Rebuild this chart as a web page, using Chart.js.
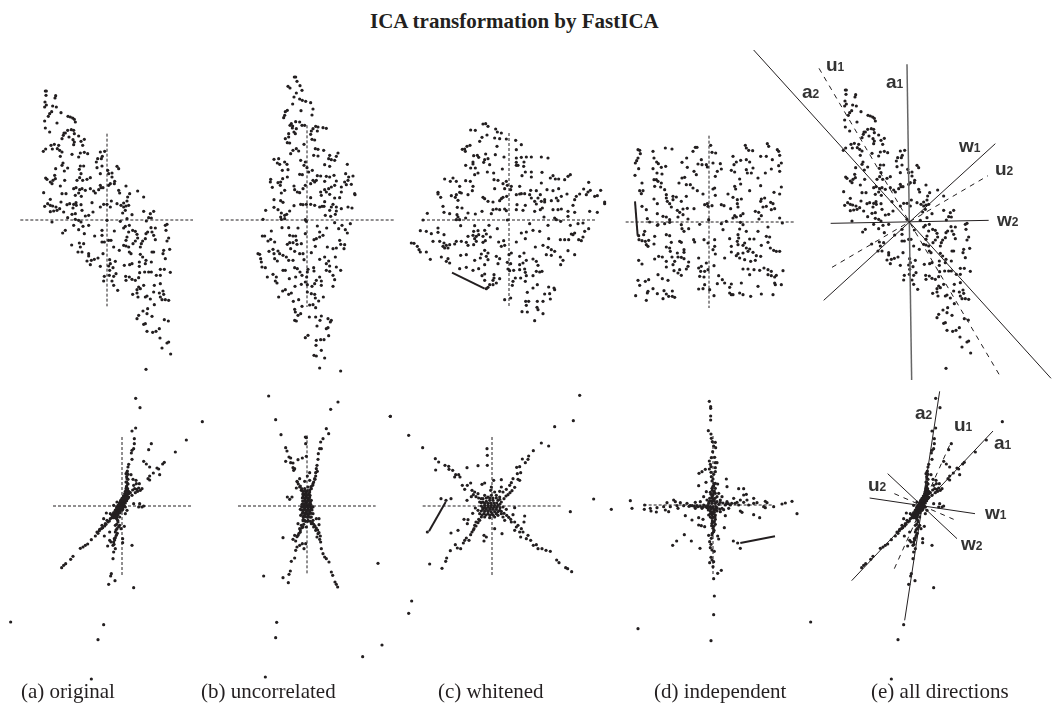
<!DOCTYPE html>
<html>
<head>
<meta charset="utf-8">
<title>ICA transformation by FastICA</title>
<script src="https://cdn.jsdelivr.net/npm/chart.js@4"></script>
<style>
html, body { margin: 0; padding: 0; background: #fff; overflow: hidden; }
#page { position: relative; width: 1052px; height: 703px; overflow: hidden; }
canvas { position: absolute; }
.title { position: absolute; left: 370px; top: 9px; font: bold 21px "Liberation Serif"; color: #231f20; white-space: nowrap; }
.cap { position: absolute; top: 679px; font: 21px "Liberation Serif"; color: #231f20; white-space: nowrap; }
.lab { position: absolute; font: bold 19px "Liberation Sans"; color: #333; line-height: 1; white-space: nowrap; }
.lab span { font-size: 12px; }
</style>
</head>
<body>
<div id="page">
<div class="title">ICA transformation by FastICA</div>
</div>
<script>
const originalTop = [[-185,387],[-182,387],[-183,374],[-154,373],[-156,366],[-186,354],[-182,345],[-187,339],[-163,342],[-152,339],[-166,325],[-172,319],[-176,311],[-187,297],[-138,322],[-150,291],[-117,311],[-110,309],[-103,306],[-98,302],[-95,294],[-185,276],[-172,264],[-118,269],[-107,271],[-100,269],[-125,261],[-131,254],[-129,261],[-135,244],[-114,249],[-98,259],[-85,252],[-102,241],[-98,234],[-78,236],[-68,242],[-73,224],[-100,226],[-158,227],[-168,224],[-145,224],[-164,213],[-149,214],[-142,209],[-135,204],[-140,191],[-184,213],[-191,206],[-105,197],[-80,201],[-85,189],[-68,203],[-58,199],[-20,204],[-7,206],[-14,191],[-17,184],[-28,184],[-32,174],[-30,157],[-15,162],[-132,171],[-135,164],[-118,156],[-154,154],[-128,147],[-80,162],[-70,162],[-83,152],[-78,139],[-82,127],[-90,119],[-50,127],[-60,122],[-73,119],[-20,139],[2,149],[5,139],[15,141],[30,161],[35,154],[15,129],[23,116],[10,109],[22,109],[57,102],[-184,126],[-180,122],[-157,134],[-155,124],[-162,119],[-170,114],[-165,109],[-127,119],[-140,102],[-50,94],[-40,87],[-20,104],[-18,97],[-12,97],[-25,91],[-35,81],[5,104],[35,89],[38,81],[92,87],[110,69],[68,79],[62,69],[60,57],[50,51],[-190,82],[-135,79],[-123,79],[-100,94],[-93,97],[-82,91],[-75,94],[-65,89],[-85,81],[-77,71],[-95,74],[-170,62],[-178,49],[-187,41],[-170,44],[-163,42],[-153,39],[-150,29],[-170,25],[-160,27],[-138,54],[-120,46],[-112,49],[-100,47],[-93,52],[-92,44],[-78,46],[-102,36],[-142,34],[-130,24],[-118,7],[-105,17],[-95,19],[-75,29],[-65,12],[-55,14],[-42,24],[-45,52],[-20,39],[-10,47],[0,47],[13,57],[10,39],[30,49],[42,44],[50,39],[57,42],[65,44],[55,29],[47,21],[60,4],[75,16],[110,26],[140,26],[130,19],[125,7],[133,6],[118,-3],[-165,-6],[-95,2],[-85,-1],[-78,-6],[-100,-16],[-72,-19],[-55,-16],[-125,-31],[-133,-39],[-85,-29],[-68,-41],[-37,-48],[-15,-31],[-15,-46],[0,-1],[40,-4],[22,-33],[55,-19],[67,-16],[50,-24],[65,-36],[77,-31],[85,-34],[90,-43],[92,-54],[60,-51],[57,-61],[85,-63],[78,-71],[107,-63],[117,-41],[122,-36],[135,-36],[140,-46],[145,-59],[132,-23],[145,-24],[115,-56],[103,-71],[175,-16],[180,-13],[177,-31],[185,-54],[180,-63],[-15,-66],[-8,-66],[5,-61],[12,-61],[-106,-75],[-83,-69],[-70,-71],[-80,-81],[-75,-96],[-87,-96],[-55,-101],[-55,-108],[-12,-101],[20,-81],[50,-76],[57,-78],[37,-91],[65,-81],[67,-96],[72,-101],[100,-103],[107,-111],[135,-96],[140,-96],[100,-81],[168,-101],[175,-116],[170,-91],[188,-88],[-27,-114],[-38,-118],[-47,-121],[-60,-123],[-50,-134],[-20,-139],[8,-119],[25,-124],[10,-131],[5,-138],[18,-143],[8,-151],[52,-136],[68,-134],[75,-131],[97,-126],[97,-139],[115,-131],[117,-121],[133,-126],[125,-156],[113,-156],[98,-158],[133,-156],[160,-148],[172,-148],[190,-157],[148,-166],[160,-166],[27,-161],[20,-169],[-8,-169],[7,-166],[-10,-183],[15,-183],[56,-169],[67,-171],[75,-178],[85,-181],[95,-173],[57,-181],[100,-206],[110,-196],[95,-201],[90,-209],[142,-196],[160,-191],[32,-211],[20,-196],[77,-223],[90,-219],[93,-231],[140,-216],[157,-219],[168,-213],[170,-223],[160,-231],[165,-239],[175,-239],[185,-241],[115,-231],[120,-228],[130,-237],[142,-254],[108,-273],[122,-266],[135,-289],[95,-286],[90,-296],[120,-281],[115,-311],[110,-313],[172,-299],[184,-303],[120,-334],[137,-337],[147,-334],[157,-326],[159,-354],[185,-366],[180,-369],[165,-384],[191,-402],[117,-448]];

const uncorrelatedTop = [[-38,429],[-34,429],[-30,416],[-21,403],[-57,401],[-51,396],[-15,389],[-32,381],[-39,369],[-22,363],[-14,359],[-4,356],[11,352],[-43,348],[18,333],[-18,328],[-59,329],[-65,325],[-67,314],[-70,307],[15,315],[-34,295],[-22,294],[-47,289],[-51,284],[-43,282],[-15,284],[-7,284],[-44,276],[-32,274],[26,281],[33,279],[18,274],[13,267],[48,277],[58,275],[31,267],[-39,264],[-35,259],[-55,259],[-55,249],[-65,244],[11,257],[15,242],[23,240],[-52,231],[-59,232],[-9,227],[-32,214],[-42,209],[-49,199],[-25,207],[25,214],[33,212],[50,209],[20,194],[33,192],[68,194],[93,201],[88,191],[65,184],[73,181],[83,179],[-99,182],[-85,184],[-89,171],[-82,167],[-67,174],[-60,167],[-19,179],[-5,174],[-9,164],[0,157],[5,144],[16,149],[53,166],[68,161],[121,167],[-74,149],[-57,151],[-59,129],[-22,137],[-14,136],[31,133],[41,132],[58,131],[68,129],[81,134],[116,139],[138,132],[125,129],[-109,122],[-110,114],[-73,124],[-79,114],[-87,112],[-104,98],[-80,104],[-67,89],[-77,81],[-39,102],[-37,91],[-29,84],[-22,82],[-12,94],[-5,104],[18,119],[23,114],[28,119],[11,109],[53,116],[88,117],[113,114],[123,119],[118,106],[133,107],[103,99],[83,104],[73,99],[65,94],[53,91],[58,84],[41,84],[43,74],[68,77],[103,84],[143,79],[144,76],[-99,61],[-79,58],[-72,53],[-39,43],[11,67],[53,55],[51,41],[98,67],[83,66],[78,47],[73,39],[123,39],[135,36],[-124,29],[-99,38],[-87,31],[-77,21],[-52,27],[-19,47],[-12,46],[-2,47],[11,47],[23,44],[38,39],[45,41],[88,39],[103,34],[68,29],[88,27],[85,17],[-67,14],[-61,17],[-79,9],[-77,2],[-67,4],[-132,2],[-5,1],[-2,-4],[55,14],[71,11],[-75,-23],[-55,-23],[-27,-24],[-107,-33],[-5,-41],[31,-18],[59,-24],[83,-8],[105,-16],[95,-26],[130,-11],[115,-29],[121,-39],[-134,-48],[-127,-48],[-52,-46],[-42,-48],[-34,-48],[38,-36],[48,-46],[38,-51],[28,-56],[21,-59],[-109,-58],[-117,-63],[-97,-66],[-32,-61],[-52,-68],[-42,-68],[-59,-73],[98,-61],[113,-74],[101,-73],[-30,-73],[-17,-71],[-49,-86],[-37,-94],[25,-79],[61,-81],[78,-86],[88,-84],[111,-86],[85,-111],[-147,-101],[-142,-103],[-139,-116],[-137,-126],[-114,-94],[-102,-88],[-99,-101],[-87,-93],[-82,-101],[-72,-106],[-62,-111],[-55,-121],[-42,-121],[-22,-101],[-12,-101],[13,-98],[-9,-119],[-97,-116],[-89,-123],[-135,-141],[-125,-143],[-37,-143],[-29,-146],[-72,-151],[-65,-151],[-21,-156],[3,-148],[1,-156],[20,-143],[38,-118],[53,-111],[65,-123],[58,-131],[68,-138],[58,-151],[68,-154],[88,-141],[101,-151],[-119,-171],[-102,-163],[-92,-171],[-95,-183],[-90,-189],[-53,-176],[-34,-171],[-15,-166],[21,-153],[-1,-171],[78,-166],[83,-179],[78,-199],[38,-171],[43,-183],[28,-181],[-5,-186],[1,-194],[-17,-193],[-36,-199],[23,-191],[15,-199],[43,-196],[-65,-209],[-73,-213],[-47,-219],[-55,-223],[-85,-231],[1,-216],[13,-221],[23,-223],[25,-234],[49,-231],[35,-243],[-41,-244],[-25,-239],[-15,-259],[8,-255],[18,-254],[26,-263],[-37,-268],[-35,-276],[-19,-281],[-27,-286],[-37,-301],[-32,-303],[7,-291],[26,-291],[43,-288],[39,-301],[63,-296],[73,-301],[70,-306],[30,-318],[63,-323],[58,-326],[65,-347],[3,-346],[-5,-353],[28,-361],[41,-359],[51,-359],[27,-376],[43,-391],[21,-406],[28,-408],[53,-414],[38,-444],[101,-453]];

const whitenedTop = [[-78,288],[-70,289],[-63,281],[-115,270],[-101,269],[-40,273],[-35,264],[-23,261],[-66,255],[-81,248],[-88,236],[-43,246],[-28,244],[-8,243],[20,239],[-36,221],[37,226],[22,211],[-117,224],[-126,221],[-133,213],[-140,212],[-131,206],[-106,193],[-95,194],[-91,188],[-70,198],[-41,196],[-15,189],[22,186],[37,188],[52,189],[67,189],[97,189],[117,186],[-73,181],[-63,184],[-108,174],[-108,168],[-76,173],[-58,166],[22,173],[45,174],[22,164],[27,164],[44,161],[-130,164],[-115,156],[-101,156],[-20,153],[49,144],[67,144],[99,143],[-103,136],[-93,141],[-65,144],[-46,141],[39,133],[67,129],[132,133],[124,126],[184,136],[177,131],[167,121],[139,123],[149,123],[-193,123],[-168,126],[-176,116],[-158,116],[-130,118],[-116,116],[-45,121],[-33,119],[-8,116],[-18,109],[97,111],[-108,101],[-148,101],[239,113],[-5,104],[7,101],[32,101],[-43,94],[-13,94],[-110,88],[37,79],[65,89],[82,88],[114,91],[132,88],[149,94],[224,93],[244,89],[237,84],[275,89],[-213,83],[-213,78],[-158,76],[-148,83],[-143,81],[5,91],[22,76],[32,78],[47,79],[62,76],[94,76],[174,78],[212,78],[232,76],[-205,68],[-173,73],[-161,68],[-153,59],[-123,76],[-78,68],[-73,64],[-63,56],[-48,54],[-23,64],[-18,68],[-7,71],[-28,58],[67,66],[87,66],[142,66],[157,71],[202,71],[265,73],[257,71],[107,61],[107,54],[127,58],[147,58],[77,56],[82,48],[97,56],[197,61],[287,54],[287,49],[-198,41],[-155,38],[-141,36],[24,46],[49,44],[192,44],[94,31],[100,36],[-195,23],[-178,19],[-156,16],[-153,9],[-123,21],[-101,18],[-81,26],[-48,31],[-38,33],[-28,31],[-13,33],[-8,28],[-53,19],[22,31],[42,29],[77,26],[132,31],[147,31],[157,33],[177,26],[197,23],[242,26],[265,23],[-245,20],[-258,0],[-158,1],[-148,1],[-130,6],[-5,0],[105,9],[137,6],[142,1],[177,11],[155,-4],[62,-11],[117,-16],[207,-11],[184,-16],[222,-9],[-145,-17],[-103,-17],[-60,-16],[-213,-24],[-266,-32],[-248,-34],[-233,-41],[-213,-37],[-106,-34],[-93,-32],[-73,-31],[-35,-26],[-68,-42],[-108,-46],[-91,-44],[37,-39],[52,-36],[72,-31],[92,-34],[197,-39],[227,-34],[239,-26],[-195,-44],[-123,-49],[-103,-56],[-98,-49],[-78,-49],[-56,-51],[192,-44],[222,-51],[187,-42],[217,-62],[-16,-62],[22,-66],[49,-56],[119,-56],[154,-59],[167,-59],[179,-59],[209,-59],[-293,-69],[-285,-70],[-275,-79],[-270,-89],[-266,-96],[-228,-64],[-208,-64],[-195,-69],[-198,-79],[-188,-76],[-178,-74],[-193,-84],[-183,-84],[-158,-64],[-163,-72],[-143,-64],[-128,-67],[-123,-76],[-106,-74],[-98,-64],[-78,-67],[-71,-62],[-31,-66],[-23,-79],[-13,-76],[79,-81],[102,-76],[-248,-96],[117,-82],[137,-94],[127,-89],[177,-92],[197,-104],[-73,-91],[-63,-99],[-83,-102],[-145,-106],[-128,-104],[-86,-114],[-68,-109],[-63,-119],[-103,-121],[-38,-109],[-28,-116],[112,-104],[127,-106],[154,-111],[-236,-118],[-203,-111],[-183,-116],[-188,-124],[-178,-129],[0,-104],[7,-99],[32,-109],[45,-99],[52,-121],[72,-117],[82,-124],[162,-121],[-5,-127],[5,-131],[32,-134],[42,-129],[87,-136],[-33,-131],[-73,-134],[155,-134],[-128,-142],[-148,-146],[-108,-151],[-91,-146],[-3,-147],[2,-152],[14,-151],[32,-149],[47,-147],[49,-157],[82,-154],[92,-156],[99,-154],[52,-167],[72,-167],[-73,-162],[-81,-167],[-45,-164],[-28,-176],[-45,-174],[19,-174],[35,-174],[-73,-181],[-48,-181],[12,-184],[10,-196],[-58,-194],[-48,-194],[-38,-189],[49,-184],[55,-217],[85,-194],[72,-204],[119,-201],[135,-204],[122,-221],[107,-222],[137,-209],[124,-237],[-13,-239],[5,-234],[50,-244],[59,-244],[85,-244],[102,-244],[52,-256],[84,-262],[87,-269],[39,-275],[55,-276],[102,-281],[77,-302],[-63,-202],[-68,-206]];

const independentTop = [[-213,217],[-208,215],[-206,205],[-213,192],[-217,184],[-221,177],[-211,160],[-222,140],[-168,212],[-131,222],[-111,219],[-48,212],[-41,224],[-36,224],[5,230],[9,209],[20,207],[-67,192],[-81,179],[-157,180],[-152,175],[-165,192],[-130,167],[-143,164],[-168,160],[-156,147],[-141,144],[-65,164],[-23,187],[-33,174],[-21,172],[-8,172],[-5,165],[12,177],[34,175],[37,159],[25,152],[19,137],[72,197],[95,185],[82,180],[75,172],[67,155],[77,150],[109,230],[112,222],[119,215],[131,214],[155,197],[172,197],[175,235],[179,227],[205,217],[209,212],[212,200],[190,187],[217,177],[209,169],[187,159],[212,152],[112,187],[122,180],[132,162],[112,157],[115,147],[127,147],[169,147],[147,132],[-165,127],[-158,127],[-153,122],[-163,107],[-201,117],[-143,117],[-145,105],[-133,97],[-81,132],[-73,134],[-90,117],[-45,152],[-38,142],[-68,112],[-56,112],[-48,102],[-35,94],[-18,84],[92,129],[95,114],[77,107],[57,84],[80,99],[122,94],[155,109],[217,105],[195,89],[212,84],[17,102],[12,99],[19,80],[-208,94],[-198,94],[-203,85],[-128,82],[-165,69],[-128,72],[-125,62],[-108,77],[-98,75],[-108,67],[-83,62],[-68,77],[72,74],[85,67],[97,69],[157,69],[167,72],[185,59],[192,55],[155,62],[-155,55],[-201,47],[-118,55],[-113,45],[-95,35],[-88,29],[-78,39],[-65,41],[-45,40],[-13,52],[-5,55],[-3,47],[9,49],[37,52],[45,49],[65,40],[85,55],[87,45],[162,45],[172,47],[187,37],[197,40],[-188,37],[-155,25],[-138,17],[-128,15],[-118,7],[-93,15],[-78,22],[139,32],[149,29],[157,19],[77,19],[82,15],[95,19],[102,25],[72,12],[150,9],[212,12],[220,-3],[-185,10],[-178,0],[-153,-8],[-133,-5],[-118,-1],[-83,-8],[-63,9],[-28,-7],[-1,7],[37,-5],[52,2],[94,-1],[102,-8],[177,-15],[-193,-28],[-196,-38],[-155,-10],[-81,-20],[-61,-20],[-75,-28],[42,-23],[92,-21],[147,-28],[87,-38],[112,-28],[-211,-41],[-210,-53],[-201,-56],[-191,-58],[-181,-55],[-188,-68],[-183,-73],[-163,-43],[-165,-66],[-128,-38],[-118,-41],[-46,-53],[-15,-53],[-3,-63],[17,-53],[-88,-58],[-83,-61],[62,-50],[89,-48],[85,-58],[122,-51],[135,-51],[172,-43],[182,-45],[-113,-61],[-128,-75],[-118,-78],[-43,-60],[17,-73],[12,-83],[-75,-83],[67,-73],[87,-68],[107,-63],[102,-70],[112,-78],[122,-81],[157,-70],[177,-61],[184,-78],[194,-85],[202,-88],[212,-88],[-116,-88],[-95,-93],[-75,-91],[19,-96],[67,-90],[87,-95],[102,-93],[117,-88],[132,-91],[142,-101],[155,-103],[-211,-115],[-201,-126],[-163,-111],[-151,-103],[-140,-105],[-128,-118],[-111,-105],[-93,-105],[-83,-106],[-75,-110],[-31,-108],[47,-108],[82,-101],[92,-108],[107,-113],[125,-118],[139,-115],[-103,-118],[-108,-128],[-61,-120],[-128,-135],[-63,-133],[-8,-123],[15,-131],[-68,-141],[-88,-143],[-105,-146],[-93,-153],[-83,-160],[-23,-133],[-31,-138],[-25,-148],[-13,-148],[-3,-143],[-153,-158],[-140,-170],[-123,-175],[102,-141],[117,-141],[135,-143],[152,-145],[165,-138],[177,-143],[187,-148],[222,-146],[122,-158],[177,-158],[187,-161],[197,-165],[202,-160],[-213,-175],[-191,-178],[-181,-173],[-208,-190],[-15,-165],[-28,-163],[29,-161],[40,-173],[47,-183],[97,-183],[-31,-201],[-18,-200],[-13,-188],[25,-185],[67,-186],[62,-196],[147,-193],[197,-183],[199,-188],[217,-188],[-168,-200],[-183,-208],[-185,-213],[-135,-206],[-110,-207],[-155,-215],[-128,-216],[-121,-223],[-220,-221],[-188,-235],[-138,-230],[-110,-223],[-103,-226],[2,-203],[15,-221],[62,-213],[67,-218],[72,-218],[92,-213],[102,-218],[125,-223],[157,-216],[192,-218]];

const originalBottom = [[41,323],[54,295],[241,253],[193,198],[160,162],[41,234],[30,225],[37,202],[37,187],[88,187],[80,169],[35,172],[30,167],[28,159],[30,140],[65,134],[73,126],[83,117],[127,131],[122,126],[105,114],[110,111],[94,99],[113,94],[83,90],[78,82],[83,78],[52,67],[20,125],[18,117],[15,102],[12,97],[27,94],[33,80],[42,77],[43,67],[35,62],[15,82],[12,72],[17,67],[13,57],[60,52],[55,47],[47,44],[40,40],[30,32],[20,44],[15,37],[10,32],[7,22],[20,27],[13,17],[3,12],[-3,17],[-7,7],[-15,-3],[-20,-13],[-10,-13],[-3,-8],[5,2],[10,-3],[-13,-23],[-20,-23],[-27,-33],[-35,-38],[-45,-43],[-55,-38],[-50,-53],[-60,-58],[-67,-70],[-75,-78],[-80,-90],[-92,-101],[-103,-114],[-110,-118],[-117,-123],[-125,-127],[-147,-151],[-154,-160],[-169,-173],[-175,-178],[-181,-185],[-15,-33],[-7,-33],[-13,-43],[-20,-58],[-15,-68],[-7,-58],[7,-61],[-3,-68],[-20,-78],[-17,-88],[-23,-98],[-25,-108],[-20,-128],[-27,-118],[-33,-108],[-43,-120],[-53,-90],[-37,-103],[-37,-78],[-47,-21],[-35,-23],[-25,2],[30,-118],[2,-98],[2,-110],[-25,-138],[-27,-158],[-32,-203],[-34,-210],[-21,-224],[-40,-235],[35,-245],[-334,-348],[-55,-356],[-72,-401],[-92,-519],[35,7],[53,7],[50,-3],[60,-3],[65,0],[15,-13],[10,-23],[-10,2],[-5,12],[0,17],[5,27],[10,37],[15,47],[-15,-8],[-20,-28],[-25,-23],[-10,-18],[0,7],[7,12],[15,22],[-15,12],[-5,0],[3,24],[13,34],[0,-13],[-13,-3],[-2,-3],[2,-10],[-8,-16],[-18,-16],[-26,-26],[-30,-28],[-12,-26],
[-30,-35],[-25,-35],[-20,-35],[-28,-28],[-22,-28],[-16,-28],[-25,-20],[-18,-20],[-12,-20],[-6,-20],[-20,-12],[-14,-12],[-8,-12],[-3,-12],[-16,-5],[-10,-5],[-4,-5],[2,-5],[-12,2],[-6,2],[0,2],[6,2],[-8,9],[-2,9],[4,9],[10,9],[-4,16],[2,16],[8,16],[14,16],[0,23],[6,23],[12,23],[18,23],[4,30],[10,30],[16,30],[8,37],[14,37],[20,37],[10,44],[16,44],[12,52],[17,52],[14,60],[18,66],[14,72],[18,80],[14,88],[18,95],[16,105],[-38,-45],[-42,-48],[-48,-55],[-52,-60],[-58,-65],[-62,-68],[-68,-74],[-72,-82],[-16,-38],[-12,-48],[-16,-55],[-10,-62],[-18,-72],[-14,-82],[-20,-95],[-22,-102],[-24,-115],[25,40],[32,48],[38,52],[44,50],[50,54]];

const uncorrelatedBottom = [[-115,330],[93,312],[71,290],[250,269],[-94,259],[58,232],[65,217],[-78,214],[-5,207],[-2,205],[48,202],[-4,187],[41,192],[-64,175],[38,172],[43,172],[-60,165],[34,157],[-54,147],[-49,144],[-2,149],[-14,144],[-27,139],[-64,134],[-49,130],[-42,129],[33,140],[30,122],[-42,115],[-40,107],[-37,112],[28,112],[26,100],[8,100],[31,104],[1,90],[-22,82],[-29,72],[-7,74],[8,77],[23,82],[18,67],[-32,54],[-22,57],[-17,47],[-12,37],[13,52],[8,42],[-59,27],[-45,27],[-52,20],[-7,52],[3,57],[-2,42],[-12,27],[-2,27],[8,27],[-7,17],[3,17],[13,17],[-12,7],[-2,7],[8,7],[18,-3],[-14,-3],[-7,-8],[3,-8],[13,-8],[-20,-10],[-12,-18],[-2,-18],[8,-18],[18,-23],[-19,-28],[-9,-30],[3,-30],[13,-33],[-7,-43],[3,-43],[18,-43],[36,-38],[28,-38],[-27,-53],[-17,-58],[13,-53],[20,-63],[36,-56],[-22,-68],[-12,-63],[-2,-63],[26,-73],[33,-83],[-20,-78],[-27,-88],[-72,-95],[-42,-100],[-37,-88],[30,-93],[38,-100],[41,-108],[-14,-113],[-4,-113],[-22,-118],[-30,-123],[-34,-133],[43,-128],[48,-143],[53,-153],[58,-158],[66,-168],[-37,-156],[-47,-166],[-9,-128],[213,-172],[-50,-195],[-54,-205],[-72,-215],[-130,-210],[-56,-230],[73,-198],[77,-208],[84,-228],[88,-235],[92,-243],[-91,-349],[-94,-395],[225,-417],[167,-452],[-125,-513],[-5,22],[5,22],[10,12],[-5,-25],[5,-25],[-9,35],[-2,36],[6,37],[11,-33],[-11,-40],[-8,0],[0,0],[8,0],[-4,12],[4,-12],
[-12,34],[-5,32],[2,33],[9,32],[-14,24],[-8,24],[0,24],[7,24],[-13,15],[-5,14],[1,13],[9,14],[-15,5],[-10,6],[-4,5],[4,4],[11,5],[-16,-2],[-11,-3],[-4,-2],[3,-2],[9,-3],[15,-2],[-16,-12],[-10,-12],[-4,-12],[3,-13],[9,-12],[15,-12],[-14,-22],[-8,-22],[-1,-23],[6,-23],[12,-22],[-12,-32],[-5,-32],[2,-34],[8,-33],[-12,-44],[-5,-46],[2,-46],[10,-46],[16,-50],[20,-55],[24,-60],[28,-66],[32,-72],[36,-80],[40,-90],[-10,-55],[-15,-65],[-20,-72],[-24,-82],[-30,-92],[-34,-105],[-6,44],[1,46],[8,48],[12,58],[17,62],[20,72],[24,80],[26,90],[-12,44],[-16,52],[-20,60],[-26,66],[-30,74]];

const whitenedBottom = [[263,332],[-305,269],[244,256],[188,238],[-250,212],[-208,175],[148,189],[170,180],[124,166],[-15,172],[-14,152],[-14,122],[110,150],[91,141],[108,140],[100,130],[-170,142],[-160,132],[-141,122],[-130,119],[-129,110],[-169,108],[-118,107],[-75,115],[-42,121],[83,118],[74,116],[86,100],[76,97],[-109,94],[-100,94],[-96,87],[-112,87],[63,82],[78,80],[83,77],[58,70],[53,62],[28,79],[5,77],[-22,69],[-30,65],[-64,69],[-74,62],[-89,62],[-82,50],[28,57],[-60,47],[-52,42],[-42,37],[43,50],[33,42],[23,44],[-2,57],[-4,47],[8,42],[-153,22],[-123,22],[-138,17],[305,21],[-75,17],[-32,22],[-22,32],[-12,27],[-2,32],[13,32],[23,27],[-37,12],[-27,12],[-17,14],[-7,17],[3,17],[18,17],[28,12],[-32,0],[-22,2],[-12,2],[-2,2],[8,2],[18,2],[33,-3],[-50,-6],[-42,-13],[-27,-10],[-17,-10],[-7,-10],[3,-10],[13,-10],[23,-13],[43,-10],[68,-5],[235,-17],[-37,-23],[-24,-23],[-12,-23],[0,-23],[13,-23],[28,-23],[63,-26],[-32,-33],[-22,-33],[-7,-35],[8,-33],[33,-33],[38,-43],[-84,-40],[-72,-41],[-74,-53],[-37,-43],[-52,-58],[8,-68],[58,-48],[68,-48],[98,-30],[96,-48],[78,-58],[88,-68],[73,-63],[83,-78],[93,-78],[68,-73],[30,-83],[-54,-68],[-60,-78],[-102,-73],[-123,-81],[-194,-78],[-64,-86],[-77,-96],[-82,-103],[-86,-111],[-69,-103],[-24,-88],[-17,-93],[-24,-105],[86,-93],[108,-88],[103,-98],[116,-103],[124,-118],[133,-116],[138,-128],[150,-128],[162,-133],[175,-136],[-110,-116],[-104,-126],[-94,-128],[-125,-134],[-136,-156],[-139,-166],[194,-162],[201,-170],[221,-185],[227,-188],[239,-197],[-187,-174],[-150,-187],[-241,-285],[-250,-322],
[-27,22],[-17,24],[-7,24],[3,24],[13,24],[23,20],[-32,10],[-22,8],[-12,8],[-4,9],[6,9],[14,9],[24,6],[-28,-5],[-20,-5],[-12,-4],[-4,-4],[5,-4],[14,-4],[24,-5],[-32,-15],[-22,-16],[-12,-16],[-3,-17],[8,-17],[18,-17],[28,-16],[-30,-27],[-18,-27],[-6,-28],[4,-28],[18,-28],[-40,-40],[-48,-48],[-58,-22],[-62,28],[-56,34],[-48,28],[-40,24],[36,22],[42,30],[48,34],[54,40],[60,46],[68,56],[36,-22],[44,-28],[50,-34],[56,-40],[-42,-50],[-48,-60],[-56,-72]];

const independentBottom = [[-11,311],[-7,295],[-7,290],[-7,267],[-7,255],[-14,223],[-6,213],[-5,200],[-2,190],[7,188],[2,177],[8,172],[-1,160],[-5,142],[5,143],[-11,132],[-8,122],[7,127],[12,127],[-6,115],[7,112],[-11,108],[-23,107],[-33,100],[-42,95],[-6,98],[7,100],[-5,85],[40,78],[-21,68],[-43,58],[7,65],[14,63],[2,58],[42,55],[77,49],[92,49],[-3,50],[7,50],[-20,40],[100,32],[92,30],[17,35],[7,35],[-8,38],[-28,25],[-3,25],[12,25],[27,25],[62,20],[82,15],[102,15],[122,20],[-248,13],[237,11],[157,11],[162,7],[217,6],[207,3],[-118,15],[-113,10],[-138,7],[-98,7],[-78,5],[-53,8],[-38,10],[-18,15],[2,15],[22,15],[42,10],[72,8],[92,8],[122,5],[132,7],[-205,0],[-188,-10],[-168,-8],[-148,-5],[-128,-5],[-108,-2],[-88,-2],[-68,-2],[-48,-2],[-28,0],[-13,5],[-3,5],[7,5],[17,2],[37,0],[52,0],[77,0],[107,0],[152,-5],[182,-5],[-305,-13],[-243,-10],[-206,-13],[-186,-18],[-170,-21],[-143,-15],[-105,-10],[-133,-20],[-53,-10],[-33,-10],[-18,-8],[-3,-8],[12,-8],[27,-10],[47,-10],[82,-18],[87,-22],[252,-26],[122,-29],[157,-8],[140,-38],[-83,-32],[-63,-45],[-43,-38],[-30,-43],[-8,-18],[2,-18],[12,-18],[22,-20],[37,-32],[-13,-30],[-3,-30],[7,-30],[-3,-40],[7,-43],[-43,-60],[-35,-62],[-25,-65],[-3,-55],[7,-58],[0,-70],[34,-68],[2,-80],[-86,-89],[-13,-91],[-3,-90],[14,-93],[17,-102],[-109,-108],[-65,-108],[-121,-121],[61,-108],[74,-114],[82,-130],[-39,-130],[-8,-128],[-3,-135],[4,-139],[-6,-157],[-3,-165],[-10,-173],[2,-170],[0,-185],[25,-196],[14,-205],[2,-221],[4,-273],[2,-329],[-225,-371],[-6,-407],[-8,-5],[0,-5],[8,-5],[-8,12],[8,-15],[-14,-15],[0,30],[4,42],[-4,-22],[4,-22],
[-16,-2],[-22,-5],[-30,-6],[-38,-4],[-46,-5],[-56,-4],[-62,-2],[-72,-4],[-12,10],[-4,12],[4,12],[12,10],[22,8],[30,6],[40,4],[46,4],[56,5],[66,5],[-14,-10],[-6,-12],[2,-12],[10,-12],[20,-12],[32,-14],[-10,20],[-2,20],[6,20],[-6,32],[2,36],[-2,44],[0,56],[3,64],[-3,72],[0,78],[2,92],[-8,-26],[0,-26],[-8,-36],[0,-36],[6,-36],[-2,-48],[4,-50],[-4,-62],[2,-64],[3,-76],[-2,-85],[-5,-100],[-10,-110],[-6,-118]];

const crosshairs = {
  a: [[[-260,0],[258,0]],[[0,259],[0,-259]]],
  b: [[[-259,0],[260,0]],[[0,284],[0,-261]]],
  c: [[[-261,0],[259,0]],[[0,261],[0,-259]]],
  d: [[[-250,0],[260,0]],[[0,259],[0,-258]]],
  f: [[[-207,0],[207,0]],[[0,207],[0,-208]]],
  g: [[[-207,0],[206,0]],[[0,212],[0,-208]]],
  h: [[[-208,0],[206,0]],[[0,207],[0,-208]]],
  i: [[[-208,0],[182,0]],[[0,207],[0,-208]]]
};
const demixLineC = [[-171,-158],[-73,-206]];
const demixLineD = [[-222,62],[-214,-41]];
const demixLineH = [[-139,12],[-189,-76]];
const demixLineI = [[82,-114],[186,-94]];

const solidTopE = [[[-460,507],[432,-478]],[[-250,-244],[265,226]],[[-229,-13],[245,-4]]];
const axisTopE = [[0,464],[14,-483]];
const dashedTopE = [[[-264,452],[282,-476]],[[-225,-145],[243,130]]];
const solidBottomE = [[[-211,-224],[213,225]],[[-52,-343],[53,344]],[[-157,24],[159,-23]],[[-103,97],[105,-98]]];
const dashedBottomE = [[[-83,-188],[85,187]],[[-83,37],[95,-40]]];

const captions = [['(a) original', 21], ['(b) uncorrelated', 201], ['(c) whitened', 438], ['(d) independent', 654], ['(e) all directions', 871]];
const labels = [
  ['u','1',826,55],['a','1',886,72],['a','2',802,82],['w','1',959,136],['u','2',995,159],['w','2',997,210],
  ['a','2',915,403],['u','1',954,415],['a','1',994,433],['u','2',868,475],['w','1',985,503],['w','2',961,534]
];

const UNIT = 3; // data units per screen pixel
const INK = '#231f20';
const page = document.getElementById('page');

function lineSet(pts, opts) {
  return Object.assign({
    data: pts.map(p => ({ x: p[0], y: p[1] })),
    showLine: true, pointRadius: 0, borderColor: INK, borderWidth: 1, fill: false
  }, opts || {});
}

function panel(cx, cy, halfW, halfH, points, guides) {
  const c = document.createElement('canvas');
  c.width = halfW * 2;
  c.height = halfH * 2;
  c.style.left = (cx - halfW) + 'px';
  c.style.top = (cy - halfH) + 'px';
  c.style.width = (halfW * 2) + 'px';
  c.style.height = (halfH * 2) + 'px';
  page.appendChild(c);
  new Chart(c.getContext('2d'), {
    type: 'scatter',
    data: {
      datasets: guides.concat([{
        data: points.map(p => ({ x: p[0], y: p[1] })),
        pointRadius: 1.6, pointBackgroundColor: INK, pointBorderWidth: 0, showLine: false
      }])
    },
    options: {
      responsive: false,
      animation: false,
      layout: { padding: 0, autoPadding: false },
      plugins: { legend: { display: false }, tooltip: { enabled: false } },
      scales: {
        x: { type: 'linear', display: false, min: -halfW * UNIT, max: halfW * UNIT },
        y: { type: 'linear', display: false, min: -halfH * UNIT, max: halfH * UNIT }
      }
    }
  });
}

const dash = { borderDash: [3, 2] };
const hair = h => h.map(s => lineSet(s, dash));
const thick = s => lineSet(s, { borderWidth: 2 });

panel(107, 220, 100, 165, originalTop, hair(crosshairs.a));
panel(307, 220, 100, 165, uncorrelatedTop, hair(crosshairs.b));
panel(509, 220, 110, 125, whitenedTop, hair(crosshairs.c).concat([thick(demixLineC)]));
panel(709, 222, 95, 100, independentTop, hair(crosshairs.d).concat([thick(demixLineD)]));
panel(907, 219, 160, 170, originalTop,
  solidTopE.map(s => lineSet(s))
    .concat([lineSet(axisTopE, { borderColor: '#666', borderWidth: 1.5 })])
    .concat(dashedTopE.map(s => lineSet(s, { borderDash: [5, 5] }))));

panel(122, 506, 115, 180, originalBottom, hair(crosshairs.f));
panel(307, 506, 115, 180, uncorrelatedBottom, hair(crosshairs.g));
panel(492, 506, 115, 180, whitenedBottom, hair(crosshairs.h).concat([thick(demixLineH)]));
panel(713, 505, 115, 180, independentBottom, hair(crosshairs.i).concat([thick(demixLineI)]));
panel(922, 506, 115, 180, originalBottom,
  solidBottomE.map(s => lineSet(s))
    .concat(dashedBottomE.map(s => lineSet(s, { borderDash: [5, 5] }))));

captions.forEach(cap => {
  const d = document.createElement('div');
  d.className = 'cap';
  d.textContent = cap[0];
  d.style.left = cap[1] + 'px';
  page.appendChild(d);
});
labels.forEach(l => {
  const d = document.createElement('div');
  d.className = 'lab';
  d.innerHTML = l[0] + '<span>' + l[1] + '</span>';
  d.style.left = l[2] + 'px';
  d.style.top = l[3] + 'px';
  page.appendChild(d);
});
</script>
</body>
</html>
